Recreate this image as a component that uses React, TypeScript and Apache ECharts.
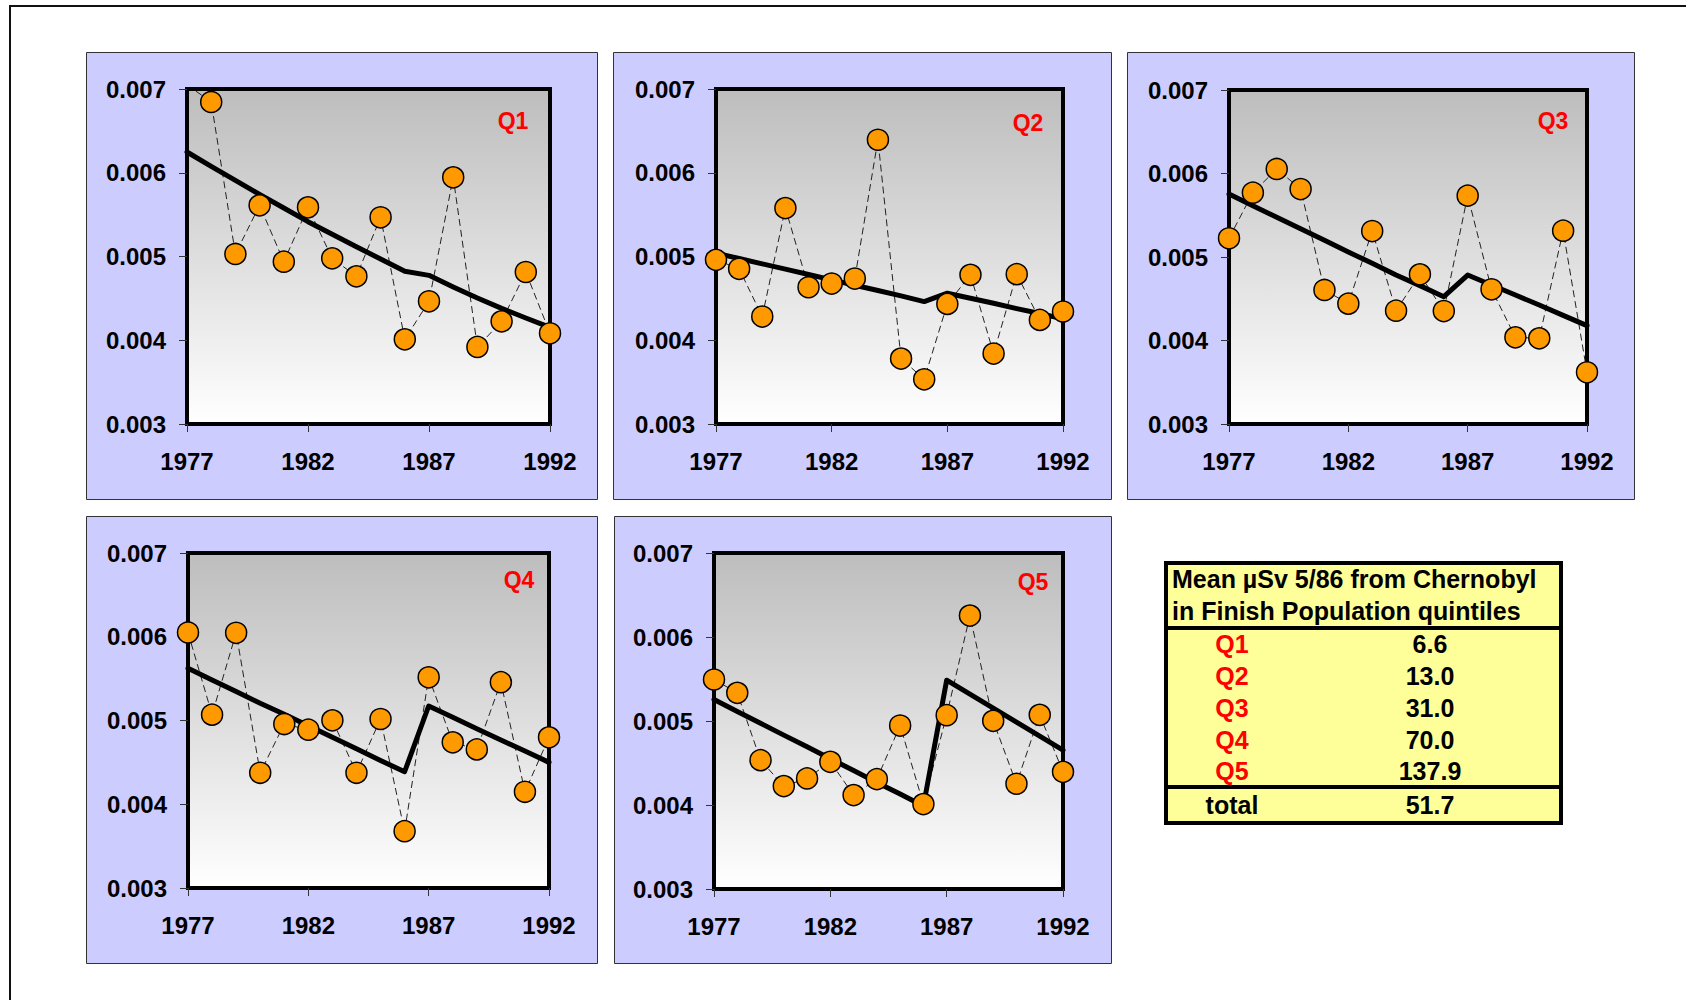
import React, { useEffect, useRef } from "react";
import * as echarts from "echarts";

// ---------- data ----------
const YEARS = [1977, 1978, 1979, 1980, 1981, 1982, 1983, 1984, 1985, 1986, 1987, 1988, 1989, 1990, 1991, 1992];
const Y_MIN = 0.003;
const Y_MAX = 0.007;
const Y_STEP = 0.001;
const X_STEP = 5;

const Q1_POINTS = [0.00705, 0.006845, 0.00503, 0.005611, 0.004938, 0.005587, 0.004978, 0.004763, 0.005468, 0.004011, 0.004465, 0.005945, 0.00392, 0.004226, 0.004815, 0.004083];
const Q1_TREND = [0.006248, 0.006077, 0.005909, 0.005742, 0.005579, 0.005416, 0.005265, 0.005117, 0.00497, 0.004823, 0.004775, 0.004636, 0.004504, 0.004381, 0.004266, 0.004154];

const Q2_POINTS = [0.00496, 0.004853, 0.004283, 0.005578, 0.004633, 0.004677, 0.004737, 0.006394, 0.003781, 0.003534, 0.004434, 0.004781, 0.003841, 0.004789, 0.004243, 0.004343];
const Q2_TREND = [0.00504, 0.004976, 0.004912, 0.004849, 0.004785, 0.004721, 0.004657, 0.004594, 0.00453, 0.004462, 0.004562, 0.004502, 0.004442, 0.004378, 0.004319, 0.004255];

const Q3_POINTS = [0.005224, 0.00577, 0.006054, 0.005814, 0.004605, 0.004441, 0.005311, 0.004357, 0.004792, 0.004353, 0.005735, 0.004613, 0.004038, 0.004026, 0.005315, 0.003619];
const Q3_TREND = [0.005754, 0.005615, 0.005475, 0.005339, 0.0052, 0.00506, 0.004924, 0.004784, 0.004657, 0.004525, 0.004784, 0.004665, 0.004545, 0.004425, 0.004301, 0.004178];

const Q4_POINTS = [0.006051, 0.00507, 0.006047, 0.004376, 0.004958, 0.00489, 0.005002, 0.004376, 0.005018, 0.003678, 0.005516, 0.004739, 0.004655, 0.005457, 0.004149, 0.004799];
const Q4_TREND = [0.005624, 0.005485, 0.005345, 0.005205, 0.005074, 0.004938, 0.004799, 0.004663, 0.004523, 0.004388, 0.005173, 0.005038, 0.004902, 0.004767, 0.004635, 0.0045];

const Q5_POINTS = [0.005494, 0.005335, 0.004534, 0.004225, 0.004316, 0.004514, 0.004118, 0.004308, 0.004946, 0.004011, 0.005069, 0.006255, 0.005002, 0.004253, 0.005073, 0.004395];
const Q5_TREND = [0.005256, 0.005113, 0.004974, 0.004832, 0.004693, 0.00455, 0.004411, 0.004269, 0.00413, 0.003987, 0.005486, 0.005319, 0.005153, 0.004986, 0.00482, 0.004653];

const PANEL_NAMES = ["Q1", "Q2", "Q3", "Q4", "Q5"];

const TABLE_TITLE_1 = "Mean µSv 5/86 from Chernobyl";
const TABLE_TITLE_2 = "in Finish Population quintiles";
const TABLE_LABELS = ["Q1", "Q2", "Q3", "Q4", "Q5"];
const TABLE_VALUES = ["6.6", "13.0", "31.0", "70.0", "137.9"];
const TOTAL_LABEL = "total";
const TOTAL_VALUE = "51.7";

// ---------- layout ----------
const FONT = '"Liberation Sans", Arial, Helvetica, sans-serif';

const PANELS = [
  { box: [86, 52, 511, 447], grid: [187, 89, 363, 335], label: [513, 121], pts: Q1_POINTS, trend: Q1_TREND },
  { box: [613, 52, 498, 447], grid: [716, 89, 347, 335], label: [1028, 123], pts: Q2_POINTS, trend: Q2_TREND },
  { box: [1127, 52, 507, 447], grid: [1229, 90, 358, 334], label: [1553, 121], pts: Q3_POINTS, trend: Q3_TREND },
  { box: [86, 516, 511, 447], grid: [188, 553, 361, 335], label: [519, 580], pts: Q4_POINTS, trend: Q4_TREND },
  { box: [614, 516, 497, 447], grid: [714, 553, 349, 336], label: [1033, 582], pts: Q5_POINTS, trend: Q5_TREND },
];

export default function App() {
  const ref = useRef<HTMLDivElement>(null);

  useEffect(() => {
    if (!ref.current) return;
    const chart = echarts.init(ref.current, undefined, { renderer: "svg" });

    const grids: any[] = [];
    const xAxes: any[] = [];
    const yAxes: any[] = [];
    const series: any[] = [];
    const graphics: any[] = [];

    // outer frame
    graphics.push({
      type: "rect",
      z: -20,
      shape: { x: 10, y: 6, width: 1720, height: 1040 },
      style: { fill: "#ffffff", stroke: "#111111", lineWidth: 2 },
    });

    PANELS.forEach((p, i) => {
      graphics.push({
        type: "rect",
        z: -10,
        shape: { x: p.box[0] + 0.5, y: p.box[1] + 0.5, width: p.box[2], height: p.box[3] },
        style: { fill: "#CCCCFF", stroke: "#333333", lineWidth: 1 },
      });
      graphics.push({
        type: "text",
        z: 20,
        style: {
          text: PANEL_NAMES[i],
          x: p.label[0],
          y: p.label[1],
          fill: "#FF0000",
          fontSize: 23,
          fontWeight: "bold",
          fontFamily: FONT,
          align: "center",
          verticalAlign: "middle",
          textAlign: "center",
          textVerticalAlign: "middle",
        },
      });

      grids.push({
        left: p.grid[0],
        top: p.grid[1],
        width: p.grid[2],
        height: p.grid[3],
        show: true,
        backgroundColor: new echarts.graphic.LinearGradient(0, 0, 0, 1, [
          { offset: 0, color: "#BDBDBD" },
          { offset: 1, color: "#FFFFFF" },
        ]),
        borderColor: "#000000",
        borderWidth: 4,
        containLabel: false,
      });

      xAxes.push({
        type: "value",
        gridIndex: i,
        min: YEARS[0],
        max: YEARS[YEARS.length - 1],
        interval: X_STEP,
        axisLine: { show: false, onZero: false },
        axisTick: { show: true, length: 8, lineStyle: { color: "#333333", width: 1 } },
        splitLine: { show: false },
        axisLabel: {
          margin: 25,
          color: "#000000",
          fontSize: 24,
          fontWeight: "bold",
          fontFamily: FONT,
          showMinLabel: true,
          showMaxLabel: true,
          formatter: (v: number) => String(Math.round(v)),
        },
      });

      yAxes.push({
        type: "value",
        gridIndex: i,
        min: Y_MIN,
        max: Y_MAX,
        interval: Y_STEP,
        axisLine: { show: false, onZero: false },
        axisTick: { show: true, length: 8, lineStyle: { color: "#333333", width: 1 } },
        splitLine: { show: false },
        axisLabel: {
          margin: 21,
          color: "#000000",
          fontSize: 24,
          fontWeight: "bold",
          fontFamily: FONT,
          formatter: (v: number) => v.toFixed(3),
        },
      });

      const pts = YEARS.map((y, k) => [y, p.pts[k]]);
      const tr = YEARS.map((y, k) => [y, p.trend[k]]);

      series.push({
        type: "line",
        xAxisIndex: i,
        yAxisIndex: i,
        data: pts,
        symbol: "none",
        clip: true,
        z: 2,
        lineStyle: { color: "#222222", width: 1, type: [7, 4] },
      });
      series.push({
        type: "line",
        xAxisIndex: i,
        yAxisIndex: i,
        data: tr,
        symbol: "none",
        clip: true,
        z: 3,
        lineStyle: { color: "#000000", width: 5, cap: "round", join: "round" },
      });
      series.push({
        type: "scatter",
        xAxisIndex: i,
        yAxisIndex: i,
        data: pts,
        symbol: "circle",
        symbolSize: 21,
        clip: true,
        z: 4,
        itemStyle: { color: "#FF9900", borderColor: "#000000", borderWidth: 1.5, opacity: 1 },
      });
    });

    // table
    const TX = 1166, TY = 563, TW = 395, TH = 260;
    graphics.push({
      type: "rect",
      z: 10,
      shape: { x: TX, y: TY, width: TW, height: TH },
      style: { fill: "#FFFF99", stroke: "#000000", lineWidth: 4 },
    });
    graphics.push({
      type: "line",
      z: 11,
      shape: { x1: TX, y1: 628, x2: TX + TW, y2: 628 },
      style: { stroke: "#000000", lineWidth: 4 },
    });
    graphics.push({
      type: "line",
      z: 11,
      shape: { x1: TX, y1: 787, x2: TX + TW, y2: 787 },
      style: { stroke: "#000000", lineWidth: 4 },
    });
    const txt = (text: string, x: number, y: number, fill: string, align: string) => ({
      type: "text",
      z: 12,
      style: {
        text,
        x,
        y,
        fill,
        fontSize: 25,
        fontWeight: "bold",
        fontFamily: FONT,
        align,
        verticalAlign: "middle",
        textAlign: align,
        textVerticalAlign: "middle",
      },
    });
    graphics.push(txt(TABLE_TITLE_1, 1172, 579, "#000000", "left"));
    graphics.push(txt(TABLE_TITLE_2, 1172, 611, "#000000", "left"));
    const rowY = [644, 676, 708, 740, 771];
    TABLE_LABELS.forEach((l, k) => {
      graphics.push(txt(l, 1232, rowY[k], "#FF0000", "center"));
      graphics.push(txt(TABLE_VALUES[k], 1430, rowY[k], "#000000", "center"));
    });
    graphics.push(txt(TOTAL_LABEL, 1232, 805, "#000000", "center"));
    graphics.push(txt(TOTAL_VALUE, 1430, 805, "#000000", "center"));

    chart.setOption({
      animation: false,
      backgroundColor: "#ffffff",
      grid: grids,
      xAxis: xAxes,
      yAxis: yAxes,
      series,
      graphic: { elements: graphics },
    });

    return () => chart.dispose();
  }, []);

  return (
    <div
      ref={ref}
      style={{ position: "fixed", left: 0, top: 0, width: 1686, height: 1000 }}
    />
  );
}
